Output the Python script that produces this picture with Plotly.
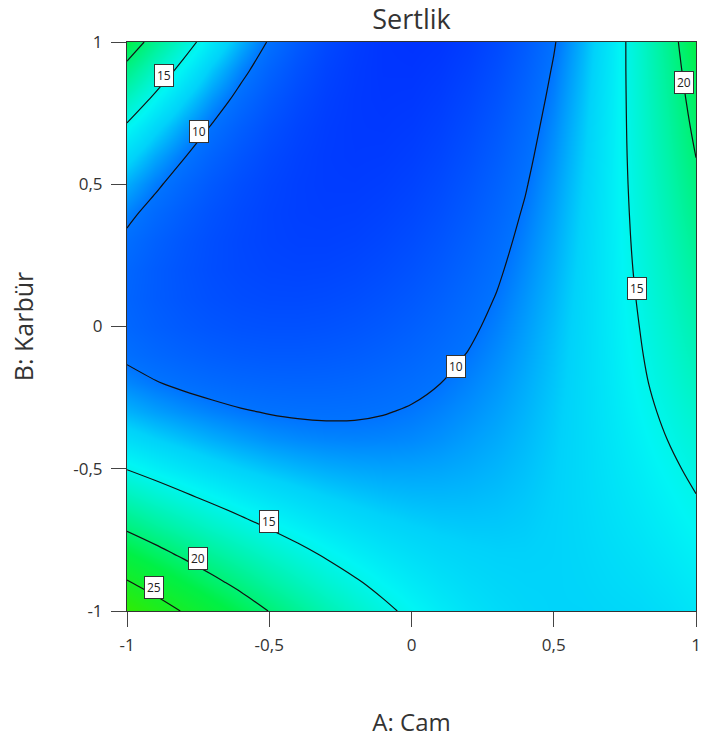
import plotly.graph_objects as go

# Factor levels (coded)
a_cam = [-1.0, -0.9, -0.8, -0.7, -0.6, -0.5, -0.4, -0.3, -0.2, -0.1, 0.0,
         0.1, 0.2, 0.3, 0.4, 0.5, 0.6, 0.7, 0.8, 0.9, 1.0]
b_karbur = [-1.0, -0.9, -0.8, -0.7, -0.6, -0.5, -0.4, -0.3, -0.2, -0.1, 0.0,
            0.1, 0.2, 0.3, 0.4, 0.5, 0.6, 0.7, 0.8, 0.9, 1.0]

# Sertlik (hardness); rows = B levels (bottom->top), cols = A levels
sertlik = [
    [28.65, 26.64, 24.76, 23.02, 21.42, 19.94, 18.61, 17.40, 16.33, 15.40, 14.60, 13.94, 13.40, 13.01, 12.75, 12.62, 12.63, 12.77, 12.90, 13.20, 13.60],
    [25.27, 23.59, 22.04, 20.61, 19.29, 18.09, 17.01, 16.05, 15.21, 14.48, 13.87, 13.38, 13.01, 12.76, 12.63, 12.61, 12.72, 12.94, 13.15, 13.48, 13.90],
    [22.20, 20.83, 19.56, 18.39, 17.33, 16.38, 15.53, 14.78, 14.14, 13.61, 13.18, 12.85, 12.63, 12.51, 12.50, 12.59, 12.79, 13.09, 13.38, 13.78, 14.25],
    [19.46, 18.34, 17.32, 16.39, 15.55, 14.81, 14.16, 13.61, 13.15, 12.78, 12.51, 12.33, 12.25, 12.26, 12.36, 12.56, 12.85, 13.24, 13.61, 14.07, 14.60],
    [17.03, 16.13, 15.32, 14.59, 13.94, 13.38, 12.91, 12.52, 12.22, 12.00, 11.87, 11.83, 11.87, 12.00, 12.21, 12.51, 12.90, 13.37, 13.82, 14.36, 14.95],
    [14.93, 14.20, 13.56, 12.99, 12.50, 12.10, 11.77, 11.52, 11.36, 11.27, 11.27, 11.34, 11.50, 11.74, 12.05, 12.45, 12.93, 13.48, 14.03, 14.66, 15.35],
    [13.15, 12.55, 12.04, 11.58, 11.18, 10.85, 10.63, 10.50, 10.45, 10.49, 10.60, 10.82, 11.13, 11.47, 11.88, 12.37, 12.94, 13.59, 14.25, 15.00, 15.80],
    [11.69, 11.18, 10.76, 10.41, 10.12, 9.92, 9.80, 9.77, 9.81, 9.93, 10.13, 10.42, 10.77, 11.20, 11.70, 12.29, 12.95, 13.68, 14.47, 15.32, 16.25],
    [10.54, 10.09, 9.72, 9.43, 9.22, 9.09, 9.04, 9.07, 9.18, 9.37, 9.64, 9.99, 10.42, 10.92, 11.51, 12.18, 12.93, 13.76, 14.67, 15.66, 16.73],
    [9.72, 9.28, 8.93, 8.66, 8.47, 8.37, 8.36, 8.43, 8.58, 8.83, 9.15, 9.57, 10.06, 10.65, 11.31, 12.07, 12.90, 13.83, 14.84, 15.93, 17.11],
    [9.22, 8.75, 8.37, 8.09, 7.89, 7.80, 7.79, 7.88, 8.06, 8.33, 8.70, 9.16, 9.71, 10.36, 11.10, 11.94, 12.86, 13.88, 14.99, 16.20, 17.50],
    [9.04, 8.50, 8.06, 7.72, 7.49, 7.36, 7.34, 7.42, 7.60, 7.89, 8.28, 8.77, 9.37, 10.07, 10.88, 11.79, 12.81, 13.92, 15.14, 16.47, 17.90],
    [9.18, 8.52, 7.98, 7.56, 7.26, 7.07, 7.00, 7.05, 7.21, 7.49, 7.89, 8.40, 9.03, 9.78, 10.65, 11.63, 12.73, 13.95, 15.29, 16.74, 18.31],
    [9.64, 8.83, 8.15, 7.61, 7.20, 6.92, 6.77, 6.76, 6.88, 7.14, 7.53, 8.05, 8.70, 9.49, 10.41, 11.46, 12.65, 13.97, 15.42, 17.00, 18.72],
    [10.42, 9.41, 8.56, 7.86, 7.31, 6.91, 6.66, 6.57, 6.63, 6.84, 7.20, 7.71, 8.37, 9.19, 10.16, 11.28, 12.55, 13.97, 15.54, 17.27, 19.15],
    [11.52, 10.28, 9.21, 8.31, 7.59, 7.04, 6.67, 6.47, 6.44, 6.58, 6.90, 7.39, 8.05, 8.89, 9.89, 11.08, 12.43, 13.96, 15.66, 17.54, 19.58],
    [12.94, 11.42, 10.10, 8.98, 8.05, 7.32, 6.79, 6.45, 6.31, 6.37, 6.63, 7.08, 7.73, 8.58, 9.62, 10.86, 12.30, 13.94, 15.77, 17.80, 20.03],
    [14.68, 12.84, 11.23, 9.84, 8.68, 7.74, 7.02, 6.53, 6.26, 6.21, 6.39, 6.79, 7.42, 8.27, 9.34, 10.64, 12.16, 13.90, 15.87, 18.06, 20.48],
    [16.74, 14.55, 12.60, 10.92, 9.48, 8.30, 7.37, 6.69, 6.27, 6.10, 6.18, 6.52, 7.11, 7.95, 9.05, 10.39, 12.00, 13.85, 15.96, 18.32, 20.94],
    [19.12, 16.53, 14.22, 12.19, 10.45, 9.00, 7.83, 6.94, 6.35, 6.03, 6.00, 6.26, 6.80, 7.63, 8.74, 10.14, 11.82, 13.79, 16.05, 18.58, 21.41],
    [21.83, 18.79, 16.07, 13.68, 11.60, 9.84, 8.40, 7.29, 6.49, 6.01, 5.86, 6.02, 6.50, 7.31, 8.43, 9.87, 11.63, 13.72, 16.12, 18.84, 21.89],
]

# Contour labels: level text and where they sit (A, B)
label_text = ["15", "10", "20", "15", "10", "15", "20", "25"]
label_a = [-0.87, -0.747, 0.958, 0.793, 0.156, -0.50, -0.75, -0.905]
label_b = [0.884, 0.684, 0.859, 0.132, -0.142, -0.684, -0.817, -0.919]

tick_vals = [-1, -0.5, 0, 0.5, 1]
tick_text = ["-1", "-0,5", "0", "0,5", "1"]

zmin, zmax = 5.5, 29.0
def frac(v):
    return (v - zmin) / (zmax - zmin)

colorscale = [
    [0.0, "rgb(0,45,255)"],
    [frac(10.0), "rgb(0,115,255)"],
    [frac(12.5), "rgb(0,210,250)"],
    [frac(14.5), "rgb(0,245,245)"],
    [frac(22.0), "rgb(0,240,70)"],
    [1.0, "rgb(50,235,0)"],
]

fig = go.Figure()
fig.add_trace(go.Contour(
    x=a_cam, y=b_karbur, z=sertlik,
    zmin=zmin, zmax=zmax, colorscale=colorscale, showscale=False,
    contours=dict(start=10, end=25, size=5, coloring="heatmap", showlabels=False),
    line=dict(color="#111111", width=1.2, smoothing=1.0),
    hoverinfo="skip",
))

for t, xa, yb in zip(label_text, label_a, label_b):
    fig.add_annotation(
        x=xa, y=yb, text=t, showarrow=False,
        font=dict(size=12, color="#222222", family="Open Sans"),
        bgcolor="white", bordercolor="#333333", borderwidth=1, borderpad=2,
    )

axis_common = dict(
    range=[-1, 1], tickvals=tick_vals, ticktext=tick_text,
    showgrid=False, zeroline=False, showline=True, linecolor="#333333",
    linewidth=1, mirror=True, ticks="outside", ticklen=15, tickcolor="#444444",
    tickfont=dict(size=17, color="#333333"), automargin=False,
)

fig.update_layout(
    width=703, height=740,
    margin=dict(l=127, r=7, t=42, b=129, autoexpand=False),
    paper_bgcolor="white", plot_bgcolor="white",
    font=dict(family="Open Sans", color="#333333"),
    title=dict(text="Sertlik", x=(127 + 696) / 2 / 703, xanchor="center",
               y=1 - 20 / 740, yanchor="middle", font=dict(size=27, color="#333333"),
               automargin=False),
    xaxis=dict(**axis_common, ticklabelstandoff=4,
               title=dict(text="A: Cam", font=dict(size=24), standoff=58)),
    yaxis=dict(**axis_common, ticklabelstandoff=5,
               title=dict(text="B: Karbür", font=dict(size=25), standoff=32)),
    showlegend=False,
)

fig.write_html(
    "out.html",
    config={"displayModeBar": False},
    post_script="document.body.style.margin='0px';document.body.style.overflow='hidden';",
)
